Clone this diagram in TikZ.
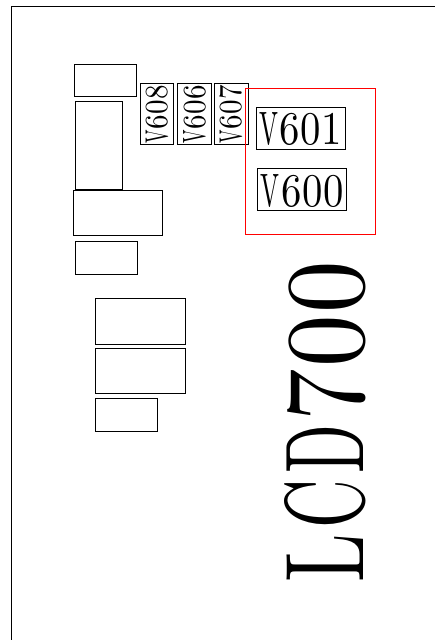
\documentclass[tikz,border=0pt]{standalone}
\newcommand{\fitlabel}[3]{\resizebox{#1pt}{#2pt}{#3}}
\newcommand{\cell}[1]{\makebox[1em][c]{\resizebox{0.97em}{\height}{#1}}}
\newcommand{\lcell}[1]{\makebox[1em][c]{\resizebox{0.9em}{\height}{#1}}}
\tikzset{
  x=1pt,y=-1pt,
  part/.style={draw=black,line width=0.8pt,inner sep=0pt,outer sep=0pt,anchor=north west,fill=none},
  redframe/.style={draw=red,line width=0.8pt,inner sep=0pt,outer sep=0pt,anchor=north west},
  sheet/.style={draw=black,line width=0.9pt}
}
\begin{document}
\begin{tikzpicture}
\useasboundingbox (0,0) rectangle (435,640);
\coordinate (sheetTR) at (435,6.5);
\coordinate (sheetTL) at (11.5,6.5);
\coordinate (sheetBL) at (11.5,640);
\draw[sheet] (sheetTR) -- (sheetTL) -- (sheetBL);
\node[part,minimum width=62.7pt,minimum height=32.7pt] (a) at (74,64) {};
\node[part,minimum width=46.7pt,minimum height=87.7pt] (b) at (75.3,101.3) {};
\node[part,minimum width=89.2pt,minimum height=45pt] (c) at (73.3,190.7) {};
\node[part,minimum width=62.7pt,minimum height=33.7pt] (d) at (75,241) {};
\node[part,minimum width=89.3pt,minimum height=46pt] (e) at (95.7,298.3) {};
\node[part,minimum width=89.3pt,minimum height=44.6pt] (f) at (95.7,348.7) {};
\node[part,minimum width=61.3pt,minimum height=33.7pt] (g) at (95.7,398) {};
\node[part,minimum width=33.4pt,minimum height=60.6pt] (v608) at (140.3,83.7) {};
\node[part,minimum width=34.4pt,minimum height=60.6pt] (v606) at (177.3,83.7) {};
\node[part,minimum width=33.6pt,minimum height=60.6pt] (v607) at (214.7,83.7) {};
\node[rotate=90,inner sep=0pt] (t608) at (157,114.5) {\fitlabel{60}{22}{\lcell{V}\cell{6}\cell{0}\cell{8}}};
\node[rotate=90,inner sep=0pt] (t606) at (194.5,114.5) {\fitlabel{60}{22}{\lcell{V}\cell{6}\cell{0}\cell{6}}};
\node[rotate=90,inner sep=0pt] (t607) at (231,114.5) {\fitlabel{60}{22}{\lcell{V}\cell{6}\cell{0}\cell{7}}};
\node[redframe,minimum width=129.6pt,minimum height=146pt] (red) at (245.7,88) {};
\node[part,minimum width=89pt,minimum height=41.3pt] (v601) at (256.7,107.7) {};
\node[part,minimum width=89pt,minimum height=41.3pt] (v600) at (257.3,168.7) {};
\node[inner sep=0pt] (t601) at (300.5,129) {\fitlabel{84}{32}{\lcell{V}\cell{6}\cell{0}\cell{1}}};
\node[inner sep=0pt] (t600) at (301.8,191) {\fitlabel{84}{32}{\lcell{V}\cell{6}\cell{0}\cell{0}}};
\node[rotate=90,inner sep=0pt] (lcd) at (325.5,422.5) {\fitlabel{325}{79}{\lcell{L}\lcell{C}\lcell{D}\cell{7}\cell{0}\cell{0}}};
\end{tikzpicture}
\end{document}
